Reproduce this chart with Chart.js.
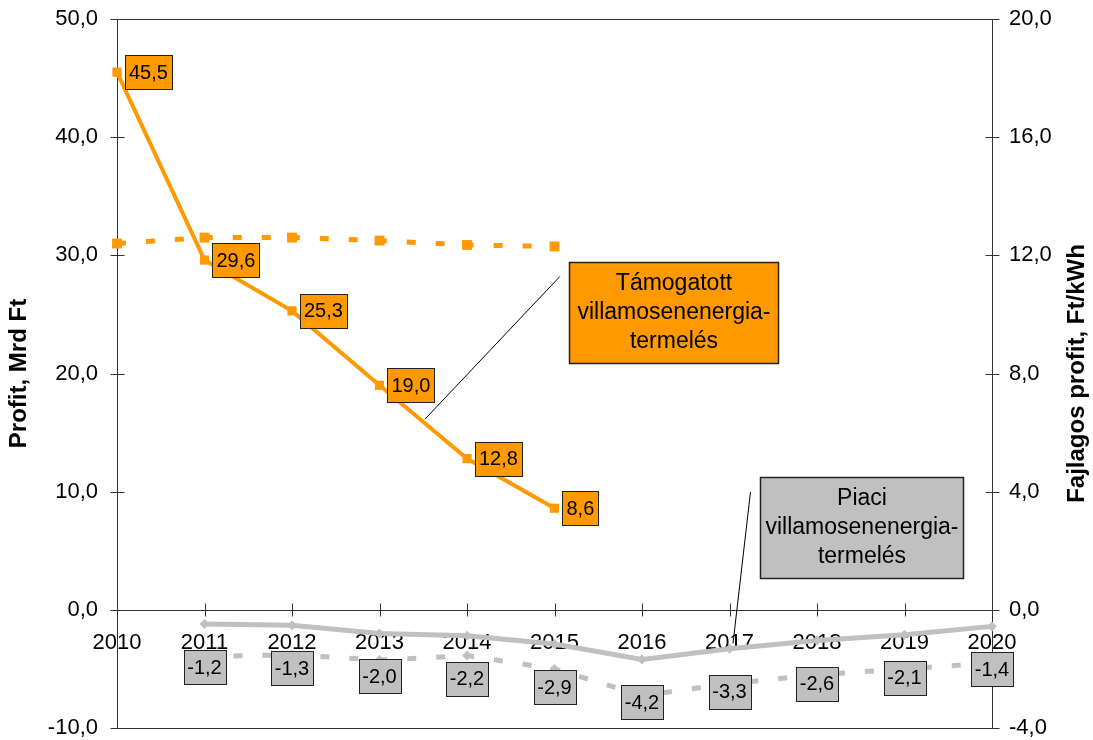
<!DOCTYPE html>
<html lang="hu">
<head>
<meta charset="utf-8">
<title>Profit alakulása</title>
<script src="https://cdn.jsdelivr.net/npm/chart.js@4.4.1/dist/chart.umd.min.js"></script>
<style>
  html, body { margin: 0; padding: 0; background: #ffffff; }
  #wrap { width: 1093px; height: 740px; }
</style>
</head>
<body>
<div id="wrap"><canvas id="chart" width="1093" height="740"></canvas></div>
<script>
// Years on the horizontal axis
const years = ['2010', '2011', '2012', '2013', '2014', '2015', '2016', '2017', '2018', '2019', '2020'];

// Supported generation: total profit (Mrd Ft, left axis) and unit profit (Ft/kWh, right axis)
const supportedProfit     = [45.5, 29.6, 25.3, 19.0, 12.8, 8.6, null, null, null, null, null];
const supportedUnitProfit = [12.4, 12.6, 12.6, 12.5, 12.35, 12.3, null, null, null, null, null];

// Market generation: total profit (Mrd Ft, left axis) and unit profit (Ft/kWh, right axis)
const marketProfit     = [null, -1.2, -1.3, -2.0, -2.2, -2.9, -4.2, -3.3, -2.6, -2.1, -1.4];
const marketUnitProfit = [null, -1.58, -1.52, -1.7, -1.55, -2.0, -2.9, -2.5, -2.2, -2.0, -1.8];

// Axis tick values
const leftTicks  = [-10, 0, 10, 20, 30, 40, 50];
const rightTicks = [-4, 0, 4, 8, 12, 16, 20];

const ORANGE = '#FF9900';
const GREY = '#C0C0C0';
const FONT = '"Liberation Sans", Arial, Helvetica, sans-serif';

const fmt = v => v.toFixed(1).replace('.', ',');

// Text callouts naming the two groups of series (positions in year / left-axis units)
const callouts = [
  {
    lines: ['Támogatott', 'villamosenenergia-', 'termelés'],
    fill: ORANGE,
    box: { x0: 2015.17, x1: 2017.55, y0: 29.47, y1: 20.92 },
    leader: [[2013.52, 16.14], [2015.06, 28.2]]
  },
  {
    lines: ['Piaci', 'villamosenenergia-', 'termelés'],
    fill: GREY,
    box: { x0: 2017.35, x1: 2019.67, y0: 11.25, y1: 2.73 },
    leader: [[2017.04, -2.84], [2017.24, 9.98]]
  }
];

// No extra room around the plot for overhanging tick labels
const noOverhang = s => {
  s.paddingTop = 0; s.paddingBottom = 0; s.paddingLeft = 0; s.paddingRight = 0;
};

// Plot frame, zero line and crossing tick marks
const framePlugin = {
  id: 'frame',
  beforeDatasetsDraw(chart) {
    const { ctx, chartArea: a, scales } = chart;
    const p = v => Math.round(v) + 0.5;
    ctx.save();
    ctx.strokeStyle = '#333333';
    ctx.lineWidth = 1;
    ctx.beginPath();
    const L = p(a.left), R = p(a.right), T = p(a.top), B = p(a.bottom);
    ctx.moveTo(L, T); ctx.lineTo(R, T); ctx.lineTo(R, B); ctx.lineTo(L, B); ctx.closePath();
    const y0 = p(scales.yL.getPixelForValue(0));
    ctx.moveTo(L, y0); ctx.lineTo(R, y0);
    leftTicks.forEach(v => {
      const y = p(scales.yL.getPixelForValue(v));
      ctx.moveTo(L - 7, y); ctx.lineTo(L + 7, y);
    });
    rightTicks.forEach(v => {
      const y = p(scales.yR.getPixelForValue(v));
      ctx.moveTo(R - 7, y); ctx.lineTo(R + 7, y);
    });
    years.forEach((_, i) => {
      const x = p(scales.x.getPixelForValue(i));
      ctx.moveTo(x, y0 - 7); ctx.lineTo(x, y0 + 6);
    });
    ctx.stroke();
    ctx.restore();
  }
};

// Value tags, callout boxes and the right-hand axis title
const overlayPlugin = {
  id: 'overlay',
  afterDatasetsDraw(chart) {
    const { ctx, chartArea: a, scales } = chart;
    const xAt = yr => scales.x.getPixelForValue(yr - 2010);
    const yAt = v => scales.yL.getPixelForValue(v);
    ctx.save();

    ctx.font = '20px ' + FONT;
    ctx.textAlign = 'center';
    ctx.textBaseline = 'middle';
    const tag = (text, cx, cy, fill) => {
      const w = Math.round(ctx.measureText(text).width + 8);
      const h = 34;
      const x = Math.round(cx - w / 2) + 0.5;
      const y = Math.round(cy - h / 2) + 0.5;
      ctx.fillStyle = fill;
      ctx.fillRect(x, y, w, h);
      ctx.strokeStyle = '#222222';
      ctx.lineWidth = 1;
      ctx.strokeRect(x, y, w, h);
      ctx.fillStyle = '#000000';
      ctx.fillText(text, cx, cy + 1);
    };

    chart.getDatasetMeta(0).data.forEach((pt, i) => {
      const v = supportedProfit[i];
      if (v === null) return;
      const t = fmt(v);
      const w = ctx.measureText(t).width + 8;
      tag(t, pt.x + 8 + w / 2, pt.y, ORANGE);
    });
    chart.getDatasetMeta(2).data.forEach((pt, i) => {
      const v = marketProfit[i];
      if (v === null) return;
      tag(fmt(v), pt.x, pt.y + 43, GREY);
    });

    callouts.forEach(c => {
      ctx.strokeStyle = '#000000';
      ctx.lineWidth = 1;
      ctx.beginPath();
      ctx.moveTo(xAt(c.leader[0][0]), yAt(c.leader[0][1]));
      ctx.lineTo(xAt(c.leader[1][0]), yAt(c.leader[1][1]));
      ctx.stroke();

      const x0 = Math.round(xAt(c.box.x0)) + 0.5, x1 = Math.round(xAt(c.box.x1)) + 0.5;
      const y0 = Math.round(yAt(c.box.y0)) + 0.5, y1 = Math.round(yAt(c.box.y1)) + 0.5;
      ctx.fillStyle = c.fill;
      ctx.fillRect(x0, y0, x1 - x0, y1 - y0);
      ctx.strokeStyle = '#222222';
      ctx.lineWidth = 1.5;
      ctx.strokeRect(x0, y0, x1 - x0, y1 - y0);
      ctx.fillStyle = '#000000';
      ctx.font = '23px ' + FONT;
      const cx = (x0 + x1) / 2, cy = (y0 + y1) / 2;
      c.lines.forEach((line, k) => {
        ctx.fillText(line, cx, cy + (k - 1) * 29);
      });
    });

    // right axis title, reading upwards like the left one
    ctx.font = 'bold 24px ' + FONT;
    ctx.translate(chart.width - 15.5, (a.top + a.bottom) / 2);
    ctx.rotate(-Math.PI / 2);
    ctx.fillText('Fajlagos profit, Ft/kWh', 0, 0);
    ctx.restore();
  }
};

Chart.defaults.font.family = FONT;
Chart.defaults.color = '#000000';

new Chart(document.getElementById('chart'), {
  type: 'line',
  data: {
    labels: years,
    datasets: [
      {
        label: 'Támogatott profit',
        data: supportedProfit,
        yAxisID: 'yL',
        borderColor: ORANGE,
        backgroundColor: ORANGE,
        borderWidth: 4,
        pointStyle: 'rect',
        pointRadius: 6.5,
        pointBorderWidth: 0,
        clip: false,
        order: 1
      },
      {
        label: 'Támogatott fajlagos profit',
        data: supportedUnitProfit,
        yAxisID: 'yR',
        borderColor: ORANGE,
        backgroundColor: ORANGE,
        borderWidth: 5,
        borderDash: [9, 20],
        pointStyle: 'rect',
        pointRadius: 7,
        pointBorderWidth: 0,
        clip: false,
        order: 2
      },
      {
        label: 'Piaci profit',
        data: marketProfit,
        yAxisID: 'yL',
        borderColor: GREY,
        backgroundColor: GREY,
        borderWidth: 5,
        pointStyle: 'rectRot',
        pointRadius: 5,
        pointBorderWidth: 0,
        clip: false,
        order: 3
      },
      {
        label: 'Piaci fajlagos profit',
        data: marketUnitProfit,
        yAxisID: 'yR',
        borderColor: GREY,
        backgroundColor: GREY,
        borderWidth: 5,
        borderDash: [9, 20],
        pointStyle: 'rectRot',
        pointRadius: 5,
        pointBorderWidth: 0,
        clip: false,
        order: 4
      }
    ]
  },
  options: {
    responsive: false,
    animation: false,
    devicePixelRatio: 1,
    events: [],
    layout: { padding: { top: 19, bottom: 12, left: 0, right: 0 } },
    plugins: {
      legend: { display: false },
      tooltip: { enabled: false }
    },
    elements: { line: { tension: 0 } },
    scales: {
      x: {
        type: 'category',
        position: { yL: 0 },
        grid: { display: false, drawTicks: false },
        border: { display: false },
        afterFit: noOverhang,
        ticks: {
          autoSkip: false,
          maxRotation: 0,
          minRotation: 0,
          padding: 20,
          font: { size: 22 },
          color: '#000000'
        }
      },
      yL: {
        type: 'linear',
        position: 'left',
        min: -10,
        max: 50,
        grid: { display: false, drawTicks: false },
        border: { display: false },
        afterBuildTicks: s => { s.ticks = leftTicks.map(v => ({ value: v })); },
        afterFit: s => { noOverhang(s); s.width = 117; },
        ticks: {
          padding: 19,
          font: { size: 22 },
          color: '#000000',
          callback: v => fmt(v)
        },
        title: {
          display: true,
          text: 'Profit, Mrd Ft',
          font: { size: 24, weight: 'bold' },
          color: '#000000',
          padding: { top: 5, bottom: 0 }
        }
      },
      yR: {
        type: 'linear',
        position: 'right',
        min: -4,
        max: 20,
        grid: { display: false, drawTicks: false },
        border: { display: false },
        afterBuildTicks: s => { s.ticks = rightTicks.map(v => ({ value: v })); },
        afterFit: s => { noOverhang(s); s.width = 101; },
        ticks: {
          padding: 17,
          font: { size: 22 },
          color: '#000000',
          callback: v => fmt(v)
        }
      }
    }
  },
  plugins: [framePlugin, overlayPlugin]
});
</script>
</body>
</html>
